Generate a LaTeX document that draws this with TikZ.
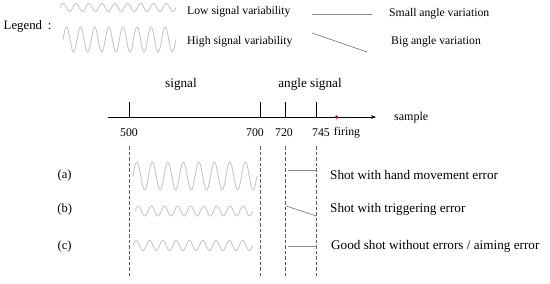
\documentclass[tikz,border=0pt]{standalone}
\usepackage{fontspec}
\setmainfont{Liberation Serif}
\usetikzlibrary{arrows.meta}
\begin{document}
\begin{tikzpicture}[x=1pt,y=-1pt,
  wave/.style={draw=black!22, line width=0.9pt},
  angline/.style={draw=black!45, line width=0.8pt},
  guide/.style={draw=black!65, line width=0.7pt, dash pattern=on 3.5pt off 2pt},
  tickline/.style={draw=black, line width=0.7pt},
  legtxt/.style={anchor=west, inner sep=0pt, font=\fontsize{11.7}{14}\selectfont},
  hdrtxt/.style={inner sep=0pt, font=\fontsize{13.2}{16}\selectfont},
  numtxt/.style={inner sep=0pt, font=\fontsize{11.8}{14}\selectfont},
  rowtxt/.style={anchor=west, inner sep=0pt, font=\fontsize{13.2}{16}\selectfont},
  abctxt/.style={inner sep=0pt, font=\fontsize{12.6}{15}\selectfont}]
\useasboundingbox (0,0) rectangle (550,284);

% ---------- legend ----------
\node[anchor=west, inner sep=0pt, font=\fontsize{12.8}{15}\selectfont] (legend) at (3.5,26) {Legend\hspace{0.45em}:};
\draw[wave] plot[domain=0:9, samples=300] ({60+\x*12.9}, {7.5-4*sin(\x*360)});
\draw[wave] plot[domain=0:8, samples=300] ({63+\x*14.1}, {39.5-12.5*sin(\x*360)});
\node[legtxt] (lowtxt) at (187,12) {Low signal variability};
\node[legtxt] (hightxt) at (187,42) {High signal variability};
\coordinate (sa1) at (312,14);
\coordinate (sa2) at (372,14);
\draw[angline] (sa1) -- (sa2);
\coordinate (ba1) at (312,33);
\coordinate (ba2) at (367,52);
\draw[angline] (ba1) -- (ba2);
\node[legtxt] (smalltxt) at (389,14) {Small angle variation};
\node[legtxt] (bigtxt) at (391,42) {Big angle variation};

% ---------- axis ----------
\node[hdrtxt] (signal) at (181,84) {signal};
\node[hdrtxt] (anglesig) at (310,84) {angle signal};
\coordinate (axs) at (108,117);
\coordinate (axe) at (376,117);
\draw[tickline, -{Stealth[length=5pt,width=3.6pt]}] (axs) -- (axe);
\node[anchor=west, inner sep=0pt, font=\fontsize{12}{14}\selectfont] (sample) at (394,118) {sample};
\foreach \n/\xx in {t500/129, t700/260.5, t720/285, t745/316.5}{
  \coordinate (\n top) at (\xx,102);
  \coordinate (\n ax) at (\xx,117);
  \draw[tickline] (\n top) -- (\n ax);
  \coordinate (\n g1) at (\xx,146);
  \coordinate (\n g2) at (\xx,276);
  \draw[guide] (\n g1) -- (\n g2);
}
\node[circle, fill=red!85!black, inner sep=0pt, minimum size=3.6pt] (fire) at (336.7,117) {};
\node[numtxt] (n500) at (129,133) {500};
\node[numtxt] (n700) at (255,133) {700};
\node[numtxt] (n720) at (284,133) {720};
\node[numtxt] (n745) at (321,133) {745};
\node[numtxt] (nfiring) at (347,133) {firing};

% ---------- rows ----------
\node[abctxt] (ra) at (64.7,175) {(a)};
\node[abctxt] (rb) at (64.7,209.5) {(b)};
\node[abctxt] (rc) at (64.7,246) {(c)};

\draw[wave] plot[domain=0:8, samples=300] ({133+\x*15.5}, {176-14*sin(\x*360)});
\draw[wave] plot[domain=0:9, samples=300] ({135+\x*13.1}, {211-5*sin(\x*360)});
\draw[wave] plot[domain=0:9, samples=300] ({133+\x*13.3}, {245.5-5*sin(\x*360)});

\coordinate (aa1) at (288,170);
\coordinate (aa2) at (316.5,170);
\draw[angline] (aa1) -- (aa2);
\coordinate (ab1) at (286,206);
\coordinate (ab2) at (316.5,216);
\draw[angline] (ab1) -- (ab2);
\coordinate (ac1) at (288,246);
\coordinate (ac2) at (316.5,246);
\draw[angline] (ac1) -- (ac2);

\node[rowtxt] (ta) at (330,175) {Shot with hand movement error};
\node[rowtxt] (tb) at (330,209) {Shot with triggering error};
\node[rowtxt] (tc) at (331,246) {Good shot without errors / aiming error};
\end{tikzpicture}
\end{document}
